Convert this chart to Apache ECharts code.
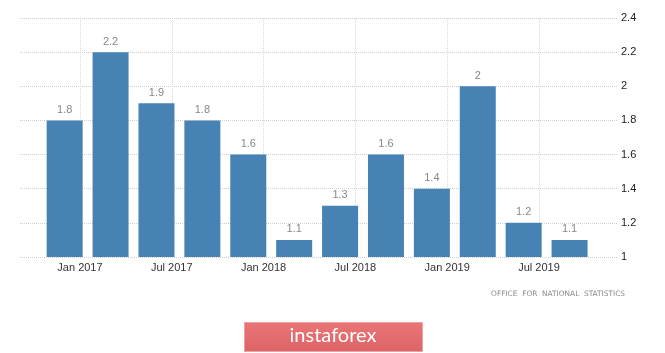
<!DOCTYPE html>
<html>
<head>
<meta charset="utf-8">
<script src="https://cdn.jsdelivr.net/npm/echarts@6/dist/echarts.min.js"></script>
<style>html,body{margin:0;padding:0;background:#fff}#c{width:665px;height:353px}</style>
</head>
<body>
<div id="c"></div>
<script>
const periods = ['2016-12','2017-03','2017-06','2017-09','2017-12','2018-03','2018-06','2018-09','2018-12','2019-03','2019-06','2019-09'];
const values = [1.8, 2.2, 1.9, 1.8, 1.6, 1.1, 1.3, 1.6, 1.4, 2, 1.2, 1.1];
const tickPeriods = ['2017-01','2017-07','2018-01','2018-07','2019-01','2019-07'];
const tickLabels = ['Jan 2017','Jul 2017','Jan 2018','Jul 2018','Jan 2019','Jul 2019'];
const yTicks = [1, 1.2, 1.4, 1.6, 1.8, 2, 2.2, 2.4];
const sourceText = 'OFFICE  FOR  NATIONAL  STATISTICS';
const brand = 'instaforex';

function monthIndex(p) {
  const [y, m] = p.split('-').map(Number);
  return (y - 2017) * 12 + (m - 1);
}
const tickIdx = tickPeriods.map(monthIndex);
const labelMap = {};
tickIdx.forEach((v, i) => labelMap[v] = tickLabels[i]);

const chart = echarts.init(document.getElementById('c'));
chart.setOption({
  animation: false,
  backgroundColor: '#fff',
  grid: { left: 20, right: 48, top: 18, bottom: 96 },
  xAxis: {
    type: 'value',
    min: -3.92,
    max: 35.1,
    axisLine: { show: false },
    axisTick: { show: false },
    splitLine: { show: false },
    axisLabel: {
      customValues: tickIdx,
      formatter: v => labelMap[v] || '',
      color: '#333',
      fontFamily: 'Liberation Sans',
      fontSize: 11,
      margin: 5
    }
  },
  yAxis: {
    type: 'value',
    position: 'right',
    min: yTicks[0],
    max: yTicks[yTicks.length - 1],
    interval: 0.2,
    axisLine: { show: false },
    axisTick: { show: false },
    axisLabel: {
      color: '#222',
      fontFamily: 'Liberation Sans',
      fontSize: 11,
      margin: 4,
      formatter: v => String(Math.round(v * 10) / 10)
    },
    splitLine: { lineStyle: { color: '#cfcfcf', type: [1, 1], width: 1 } }
  },
  series: [
    {
      type: 'line',
      data: [],
      z: 0,
      markLine: {
        silent: true,
        z: 0,
        symbol: 'none',
        label: { show: false },
        lineStyle: { color: '#d8d8d8', type: [1, 1], width: 1 },
        data: tickIdx.map(v => ({ xAxis: v }))
      }
    },
    {
      type: 'bar',
      barWidth: 36,
      data: periods.map((p, i) => [monthIndex(p), values[i]]),
      itemStyle: { color: '#4682b4' },
      label: {
        show: true,
        position: 'top',
        distance: 5,
        color: '#888',
        fontFamily: 'Liberation Sans',
        fontSize: 11,
        formatter: p => String(p.value[1])
      },
      z: 3
    }
  ],
  graphic: [
    {
      type: 'text', right: 40, top: 291,
      style: { text: sourceText, fill: '#8a8a8a', font: '7.4px "DejaVu Sans"' }
    },
    {
      type: 'rect', left: 244, top: 322,
      shape: { width: 178, height: 29 },
      style: {
        fill: new echarts.graphic.LinearGradient(0, 0, 0, 1, [
          { offset: 0, color: '#ea7476' },
          { offset: 1, color: '#dc6466' }
        ]),
        stroke: '#f0a0a0', lineWidth: 1
      }
    },
    {
      type: 'text',
      style: { x: 333, y: 336, text: brand, fill: '#fff', font: '20px Lato', align: 'center', verticalAlign: 'middle' }
    }
  ]
});
</script>
</body>
</html>
